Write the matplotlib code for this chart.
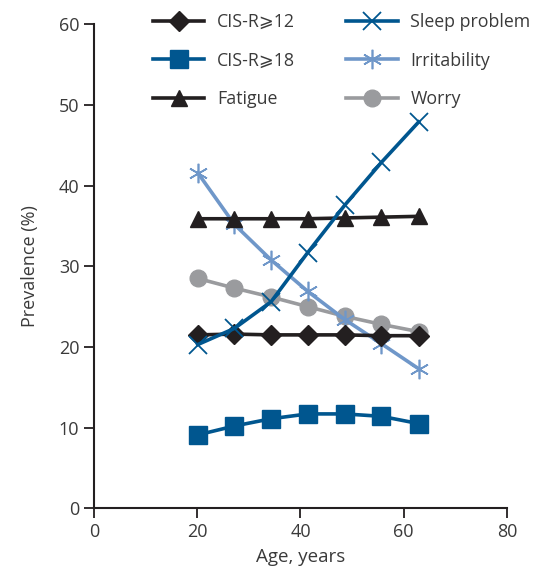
#!/usr/bin/env python3
"""Prevalence of CIS-R thresholds and symptoms by age."""
import matplotlib
matplotlib.use("Agg")
import matplotlib.pyplot as plt

ages = [20.1, 27.2, 34.3, 41.4, 48.6, 55.7, 62.9]

cis12 = [21.5, 21.6, 21.5, 21.5, 21.5, 21.4, 21.4]
cis18 = [9.1, 10.2, 11.1, 11.7, 11.7, 11.4, 10.5]
fatigue = [35.9, 35.9, 35.9, 35.9, 36.0, 36.1, 36.2]
sleep = [20.3, 22.3, 25.6, 31.7, 37.6, 42.9, 47.9]
irritability = [41.6, 35.2, 30.8, 26.9, 23.4, 20.4, 17.3]
worry = [28.5, 27.3, 26.2, 25.0, 23.8, 22.8, 21.9]

DARK_BLUE = "#00568f"
LIGHT_BLUE = "#6f97c9"
GREY = "#9a9b9e"
BLACK = "#231f20"
TEXT = "#3a3a3a"

plt.rcParams["font.family"] = ["Open Sans", "DejaVu Sans"]
plt.rcParams["font.size"] = 12.5

fig = plt.figure(figsize=(5.37, 5.74), dpi=100)
ax = fig.add_axes([0.175, 0.1145, 0.769, 0.843])

lw = 2.6
h_worry, = ax.plot(ages, worry, color=GREY, lw=lw, marker="o", ms=12, label="Worry")
h_irr, = ax.plot(ages, irritability, color=LIGHT_BLUE, lw=lw, marker=(6, 2, 0), ms=14,
                 mew=1.2, label="Irritability")
h_c12, = ax.plot(ages, cis12, color=BLACK, lw=lw, marker="D", ms=10, label="CIS-R\u2a7e12")
h_c18, = ax.plot(ages, cis18, color=DARK_BLUE, lw=lw, marker="s", ms=13, label="CIS-R\u2a7e18")
h_fat, = ax.plot(ages, fatigue, color=BLACK, lw=lw, marker="^", ms=11, label="Fatigue")
h_slp, = ax.plot(ages, sleep, color=DARK_BLUE, lw=lw, marker="x", ms=13, mew=1.3,
                 label="Sleep problem")

ax.set_xlim(0, 80)
ax.set_ylim(0, 60)
ax.set_xticks([0, 20, 40, 60, 80])
ax.set_yticks([0, 10, 20, 30, 40, 50, 60])
for s in ("top", "right"):
    ax.spines[s].set_visible(False)
for s in ("left", "bottom"):
    ax.spines[s].set_linewidth(1.5)
    ax.spines[s].set_color(BLACK)
ax.tick_params(colors=BLACK, labelcolor=TEXT, width=1.3, length=7, labelsize=13)
ax.set_xlabel("Age, years", color=TEXT, fontsize=13.5, labelpad=5)
ax.set_ylabel("Prevalence (%)", color=TEXT, fontsize=13, labelpad=14)

handles = [h_c12, h_c18, h_fat, h_slp, h_irr, h_worry]
fig.legend(handles=handles, labels=[h.get_label() for h in handles], ncol=2,
           loc="upper left", bbox_to_anchor=(0.255, 1.005), frameon=False,
           handlelength=2.9, handletextpad=0.7, columnspacing=2.9, labelspacing=1.15,
           fontsize=12.8, labelcolor=TEXT)

fig.savefig("out.png", dpi=100)
